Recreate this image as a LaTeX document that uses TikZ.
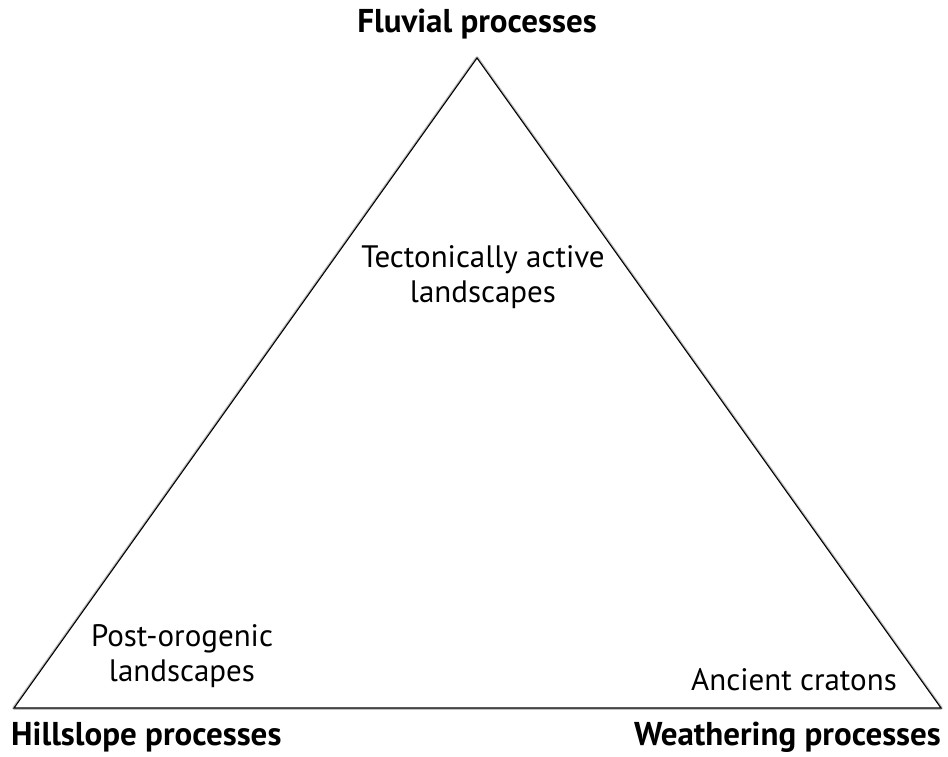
\documentclass[tikz,border=0pt]{standalone}
\usepackage{fontspec}
\setmainfont{PT Sans}
\usetikzlibrary{positioning}

\tikzset{
    corner/.style={font=\fontsize{33}{38}\selectfont\bfseries, inner sep=0pt},
    landscape/.style={font=\fontsize{31}{35}\selectfont, align=center, inner sep=0pt},
    shade edge/.style={draw=black!45, line width=3.5pt, opacity=.55, line join=round},
}

\begin{document}
\begin{tikzpicture}[x=1pt, y=-1pt]%
    \useasboundingbox (0,0) rectangle (948,757);
    \coordinate (top) at (477,58);
    \coordinate (left) at (14,708);
    \coordinate (right) at (941,708);
    % faint shadow under the triangle
    \draw [shade edge, xshift=1.5pt, yshift=-2.5pt] (top) -- (left) -- (right) -- cycle;
    \draw [fill=white, line width=1.1pt] (top) -- (left) -- (right) -- cycle;

    \node (fluvial) [corner] at (477,24) {Fluvial processes};
    \node (hillslope) [corner, anchor=west] at (11,737) {Hillslope processes};
    \node (weathering) [corner, anchor=east] at (941,737) {Weathering processes};

    \node (tectonic) [landscape] at (483,277) {Tectonically active\\landscapes};
    \node (postorog) [landscape] at (182,656) {Post-orogenic\\landscapes};
    \node (cratons) [landscape] at (794,680) {Ancient cratons};
\end{tikzpicture}
\end{document}
